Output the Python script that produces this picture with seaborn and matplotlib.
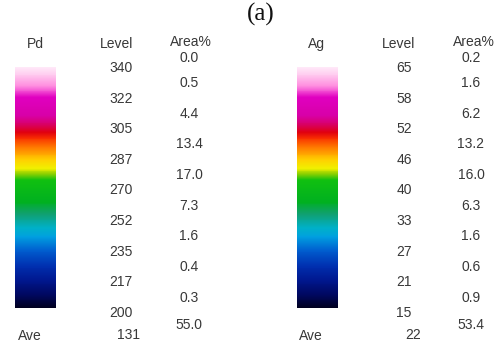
import matplotlib
matplotlib.use("Agg")
import matplotlib.pyplot as plt
import numpy as np
import seaborn as sns
from matplotlib.colors import LinearSegmentedColormap

sns.set_style("white")
plt.rcParams["font.family"] = ["Liberation Sans", "DejaVu Sans"]

# data
pd_levels = [340, 322, 305, 287, 270, 252, 235, 217, 200]
pd_area = ["0.0", "0.5", "4.4", "13.4", "17.0", "7.3", "1.6", "0.4", "0.3", "55.0"]
pd_ave = 131

ag_levels = [65, 58, 52, 46, 40, 33, 27, 21, 15]
ag_area = ["0.2", "1.6", "6.2", "13.2", "16.0", "6.3", "1.6", "0.6", "0.9", "53.4"]
ag_ave = 22

# colour scale, top (high) to bottom (low), as (pixel row, colour)
stops = [
    (67, "#ffe8f8"), (75, "#ffc8ee"), (85, "#ff90e0"), (92, "#f040d0"),
    (97, "#e000c0"), (115, "#d800a8"), (125, "#d80060"), (132, "#e00010"),
    (138, "#f83000"), (148, "#ff8000"), (160, "#ffd000"), (168, "#f0f000"),
    (174, "#90d000"), (180, "#10c010"), (202, "#00b020"), (214, "#10a070"),
    (228, "#00b0c8"), (237, "#00a0e0"), (250, "#0060d0"), (266, "#0030b0"),
    (280, "#001890"), (295, "#000860"), (308, "#000020"),
]
# cmap runs low -> high, so bottom row is 0
cmap = LinearSegmentedColormap.from_list(
    "xray", [((308 - y) / (308 - 67), c) for y, c in reversed(stops)]
)

W, H = 495, 349
fig = plt.figure(figsize=(W / 100, H / 100), dpi=100)
ax = fig.add_axes([0, 0, 1, 1])
ax.set_xlim(0, W)
ax.set_ylim(H, 0)
ax.axis("off")

TXT = "#383838"
FS = 10

ax.text(261, 14, "(a)", ha="center", va="center", fontsize=18,
        family=["Liberation Serif", "DejaVu Serif"], color="#111111")


def panel(name, x_bar, x_name, x_lev_head, x_lev, x_area_head, x_area, x_ave,
          levels, area, ave):
    # gradient bar
    cax = fig.add_axes([x_bar / W, 1 - 308 / H, 41 / W, (308 - 67) / H])
    grad = np.linspace(max(levels), min(levels), 256)[:, None]
    sns.heatmap(grad, cmap=cmap, cbar=False, ax=cax, xticklabels=False,
                yticklabels=False, vmin=min(levels), vmax=max(levels))
    cax.axis("off")

    ax.text(x_name, 44, name, ha="center", va="center", fontsize=FS, color=TXT)
    ax.text(x_lev_head, 44, "Level", ha="center", va="center", fontsize=FS, color=TXT)
    ax.text(x_area_head, 42, "Area%", ha="center", va="center", fontsize=FS, color=TXT)

    top, step = 68, 30.6
    ys = [top + step * i for i in range(len(levels))]
    for y, v in zip(ys, levels):
        ax.text(x_lev, y, str(v), ha="center", va="center", fontsize=FS, color=TXT)

    area_y = [58] + [(a + b) / 2 for a, b in zip(ys[:-1], ys[1:])] + [325]
    for y, v in zip(area_y, area):
        ax.text(x_area, y, v, ha="center", va="center", fontsize=FS, color=TXT)

    ax.text(x_name - 5, 336, "Ave", ha="center", va="center", fontsize=FS, color=TXT)
    ax.text(x_ave, 335, str(ave), ha="center", va="center", fontsize=FS, color=TXT)


panel("Pd", 15, 35, 117, 121, 191, 189, 128, pd_levels, pd_area, pd_ave)
panel("Ag", 297, 316, 399, 404, 474, 471, 413, ag_levels, ag_area, ag_ave)

fig.savefig("out.png", dpi=100)
plt.close(fig)
